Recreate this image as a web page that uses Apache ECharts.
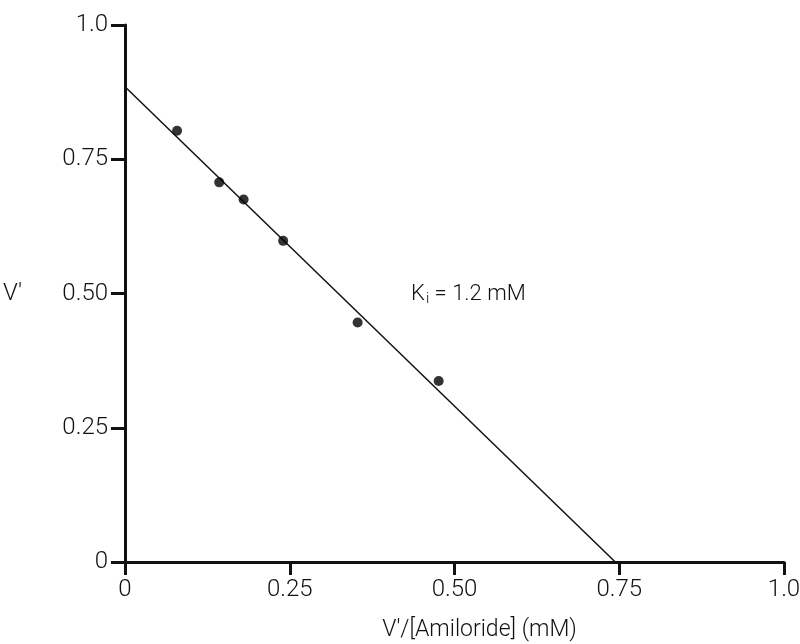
<!DOCTYPE html>
<html lang="en">
<head>
    <meta charset="utf-8">
    <script src="https://cdn.jsdelivr.net/npm/echarts@6/dist/echarts.min.js"></script>
    <style>
        html, body { margin: 0; padding: 0; background: #fff; }
        #chart { width: 800px; height: 644px; }
    </style>
</head>
<body>
<div id="chart"></div>

<script type="text/javascript">
    // measured points: V'/[Amiloride] vs V'
    var pointX = [0.079, 0.143, 0.180, 0.240, 0.353, 0.476];
    var pointY = [0.803, 0.707, 0.675, 0.598, 0.446, 0.337];

    // fitted line end points
    var fitX = [0, 0.744];
    var fitY = [0.885, 0];

    var xTickLabels = ['0', '0.25', '0.50', '0.75', '1.0'];
    var yTickLabels = ['0', '0.25', '0.50', '0.75', '1.0'];

    var font = 'Roboto';
    var ink = '#111';

    function pairs(xs, ys) {
        var out = [];
        for (var i = 0; i < xs.length; i++) out.push([xs[i], ys[i]]);
        return out;
    }

    function tickLabel(list) {
        return function (v) {
            var i = Math.round(v / 0.25);
            return list[i] !== undefined ? list[i] : '';
        };
    }

    var chart = echarts.init(document.getElementById('chart'));

    var option = {
        backgroundColor: '#fff',
        animation: false,
        grid: { left: 125, right: 16, top: 25, bottom: 82, outerBoundsMode: 'none', containLabel: false },
        xAxis: {
            type: 'value',
            min: 0,
            max: 1,
            interval: 0.25,
            name: "V'/[Amiloride] (mM)",
            nameLocation: 'middle',
            nameGap: 57,
            nameTextStyle: {
                fontFamily: font, fontWeight: 300, fontSize: 23, color: ink,
                padding: [0, 0, 0, 50]
            },
            axisLine: { onZero: false, lineStyle: { color: ink, width: 3 } },
            axisTick: { length: 13, lineStyle: { color: ink, width: 3 } },
            axisLabel: {
                formatter: tickLabel(xTickLabels),
                fontFamily: font, fontWeight: 300, fontSize: 24, color: ink,
                margin: 16
            },
            splitLine: { show: false }
        },
        yAxis: {
            type: 'value',
            min: 0,
            max: 1,
            interval: 0.25,
            name: "V'",
            nameLocation: 'middle',
            nameRotate: 0,
            nameGap: 103,
            nameTextStyle: {
                fontFamily: font, fontWeight: 300, fontSize: 24, color: ink,
                padding: [10, 0, 0, 0]
            },
            axisLine: { onZero: false, lineStyle: { color: ink, width: 3 } },
            axisTick: { length: 14, lineStyle: { color: ink, width: 3 } },
            axisLabel: {
                formatter: tickLabel(yTickLabels),
                fontFamily: font, fontWeight: 300, fontSize: 24, color: ink,
                margin: 17
            },
            splitLine: { show: false }
        },
        series: [
            {
                type: 'line',
                data: pairs(fitX, fitY),
                symbol: 'none',
                lineStyle: { color: ink, width: 1.5 },
                z: 2
            },
            {
                type: 'scatter',
                data: pairs(pointX, pointY),
                symbol: 'circle',
                symbolSize: 10,
                itemStyle: { color: '#000' },
                z: 3
            }
        ],
        graphic: [
            {
                type: 'text',
                left: 411,
                top: 283,
                style: {
                    text: '{k|K}{s|i}{k| = 1.2 mM}',
                    rich: {
                        k: { fontFamily: font, fontWeight: 300, fontSize: 22, fill: ink },
                        s: { fontFamily: font, fontWeight: 300, fontSize: 15, fill: ink, padding: [10, 0, 0, 1] }
                    }
                }
            }
        ]
    };

    chart.setOption(option);
</script>
</body>
</html>
